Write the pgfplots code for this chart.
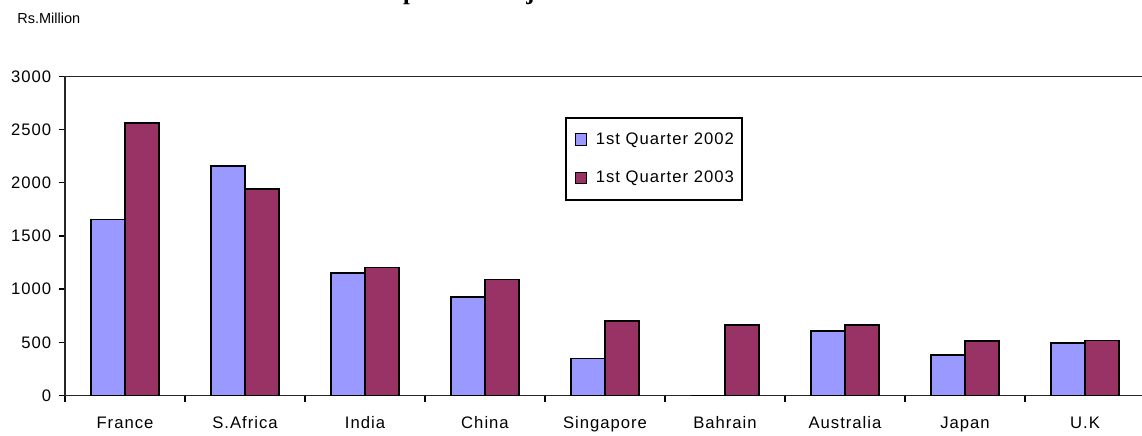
\documentclass[border=0pt]{standalone}
\usepackage{fontspec}
\setmainfont[LetterSpace=6]{Liberation Sans}
\newfontfamily\plainsans{Liberation Sans}
\newfontfamily\titlefont{Liberation Serif}
\usepackage{pgfplots}
\pgfplotsset{compat=1.18}
\definecolor{bblue}{HTML}{9999FF}
\definecolor{bmaroon}{HTML}{993366}

\begin{document}
\begin{tikzpicture}
\begin{axis}[
  at={(39pt,24.3pt)}, anchor=south west,
  scale only axis, width=648pt, height=191.4pt,
  ybar=0pt, bar width=20.4pt,
  xmin=-0.5, xmax=8.5, ymin=0, ymax=3000,
  xtick={-0.5,0.5,...,8.5},
  x tick label as interval,
  xticklabels={France,S.Africa,India,China,Singapore,Bahrain,Australia,Japan,U.K},
  ytick={0,500,...,3000},
  scaled y ticks=false,
  /pgf/number format/1000 sep={},
  /pgf/number format/assume math mode=true,
  tick align=outside,
  xtick pos=bottom, ytick pos=left,
  major tick length=3.8pt,
  every tick/.style={black, line width=0.8pt},
  axis line style={line width=1pt, black!85},
  ticklabel style={font=\fontsize{10}{12}\selectfont},
  xticklabel style={yshift=-5.5pt},
  yticklabel style={xshift=-1pt},
  legend style={at={(0.463,0.873)}, anchor=north west, draw=black, line width=0.9pt,
    font=\fontsize{10}{12}\selectfont, row sep=10.5pt, inner xsep=3pt, inner ysep=7pt,
    cells={anchor=west}},
  legend image code/.code={\path[draw=none, fill=none] (0pt,0pt) -- (13pt,0pt);
    \draw[#1, line width=0.6pt] (3pt,-3.5pt) rectangle (9.5pt,3.5pt);},
]
\addplot[fill=bblue, draw=black, line width=0.9pt] coordinates {
  (0,1655) (1,2160) (2,1152) (3,924) (4,349) (5,0) (6,608) (7,383) (8,492)};
\addlegendentry{1st Quarter 2002}
\addplot[fill=bmaroon, draw=black, line width=0.9pt] coordinates {
  (0,2565) (1,1940) (2,1203) (3,1093) (4,702) (5,664) (6,664) (7,514) (8,518)};
\addlegendentry{1st Quarter 2003}
\end{axis}
\node[font=\plainsans\fontsize{8.7}{10}\selectfont, anchor=west, inner sep=0pt] at (10.2pt,250.8pt) {Rs.Million};
\node[font=\titlefont\bfseries\fontsize{14.8}{16}\selectfont, anchor=base, inner sep=0pt] at (345.6pt,261.8pt) {Exports to Major Markets - Countries};
\pgfresetboundingbox
\useasboundingbox (0,0) rectangle (685.2pt,261.6pt);
\end{tikzpicture}
\end{document}
